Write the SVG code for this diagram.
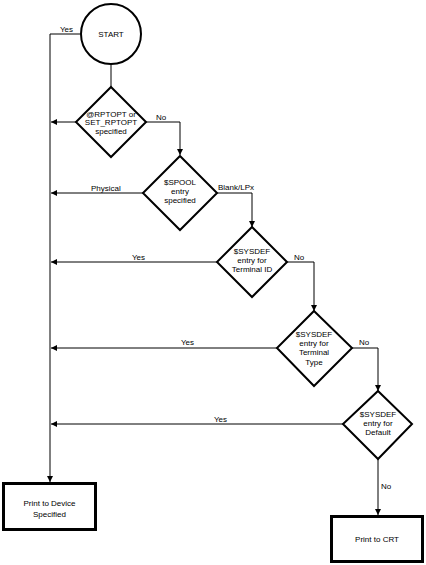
<svg xmlns="http://www.w3.org/2000/svg" width="426" height="565" viewBox="0 0 426 565">
<style>
.shape{fill:#fff;stroke:#000;stroke-width:2}
.box{fill:#fff;stroke:#000;stroke-width:3}
.conn{fill:none;stroke:#000;stroke-width:1}
text{font-family:"Liberation Sans",Arial,sans-serif;font-size:8px;fill:#000}
.c{text-anchor:middle}
</style>
<defs>
<marker id="ah" viewBox="0 0 6 6" refX="6" refY="3" markerWidth="6" markerHeight="6" markerUnits="userSpaceOnUse" orient="auto">
<path d="M0,0 L6,3 L0,6 z" fill="#000"/>
</marker>
</defs>
<rect width="426" height="565" fill="#fff"/>
<g id="connectors">
<path class="conn" d="M80,34 H50 V482" marker-end="url(#ah)"/>
<path class="conn" d="M111,64 V87"/>
<path class="conn" d="M77,122 H51" marker-end="url(#ah)"/>
<path class="conn" d="M146,122 H180 V155" marker-end="url(#ah)"/>
<path class="conn" d="M143,193 H51" marker-end="url(#ah)"/>
<path class="conn" d="M217,193 H252 V227" marker-end="url(#ah)"/>
<path class="conn" d="M217,262 H51" marker-end="url(#ah)"/>
<path class="conn" d="M287,262 H314 V311" marker-end="url(#ah)"/>
<path class="conn" d="M277,348 H51" marker-end="url(#ah)"/>
<path class="conn" d="M352,348 H378 V391" marker-end="url(#ah)"/>
<path class="conn" d="M343,424 H51" marker-end="url(#ah)"/>
<path class="conn" d="M378,459 V515" marker-end="url(#ah)"/>
<text x="60" y="32">Yes</text>
<text x="156" y="120">No</text>
<text x="91" y="191">Physical</text>
<text x="218" y="190">Blank/LPx</text>
<text x="132" y="260">Yes</text>
<text x="294" y="260">No</text>
<text x="181" y="345">Yes</text>
<text x="359" y="345">No</text>
<text x="214" y="422">Yes</text>
<text x="381" y="489">No</text>
</g>
<g id="start">
<circle class="shape" cx="111" cy="34" r="30"/>
<text class="c" x="111" y="37">START</text>
</g>
<g id="d1">
<polygon class="shape" points="111,87 146,122 111,157 76,122"/>
<text class="c" x="111" y="117">@RPTOPT or</text>
<text class="c" x="111" y="125">SET_RPTOPT</text>
<text class="c" x="111" y="134">specified</text>
</g>
<g id="d2">
<polygon class="shape" points="180,156 217,193 180,230 143,193"/>
<text class="c" x="180" y="185">$SPOOL</text>
<text class="c" x="180" y="194">entry</text>
<text class="c" x="180" y="203">specified</text>
</g>
<g id="d3">
<polygon class="shape" points="252,227 287,262 252,297 217,262"/>
<text class="c" x="252" y="254">$SYSDEF</text>
<text class="c" x="252" y="263">entry for</text>
<text class="c" x="252" y="272">Terminal ID</text>
</g>
<g id="d4">
<polygon class="shape" points="314,311 352,348 314,386 277,348"/>
<text class="c" x="314" y="337">$SYSDEF</text>
<text class="c" x="314" y="346">entry for</text>
<text class="c" x="314" y="355">Terminal</text>
<text class="c" x="314" y="365">Type</text>
</g>
<g id="d5">
<polygon class="shape" points="378,391 412,424 378,459 343,424"/>
<text class="c" x="378" y="417">$SYSDEF</text>
<text class="c" x="378" y="426">entry for</text>
<text class="c" x="378" y="435">Default</text>
</g>
<g id="box-device">
<rect class="box" x="3.5" y="483.5" width="92" height="46"/>
<text class="c" x="49.5" y="506">Print to Device</text>
<text class="c" x="49.5" y="517">Specified</text>
</g>
<g id="box-crt">
<rect class="box" x="331.5" y="516.5" width="91" height="45"/>
<text class="c" x="377" y="542">Print to CRT</text>
</g>
</svg>
